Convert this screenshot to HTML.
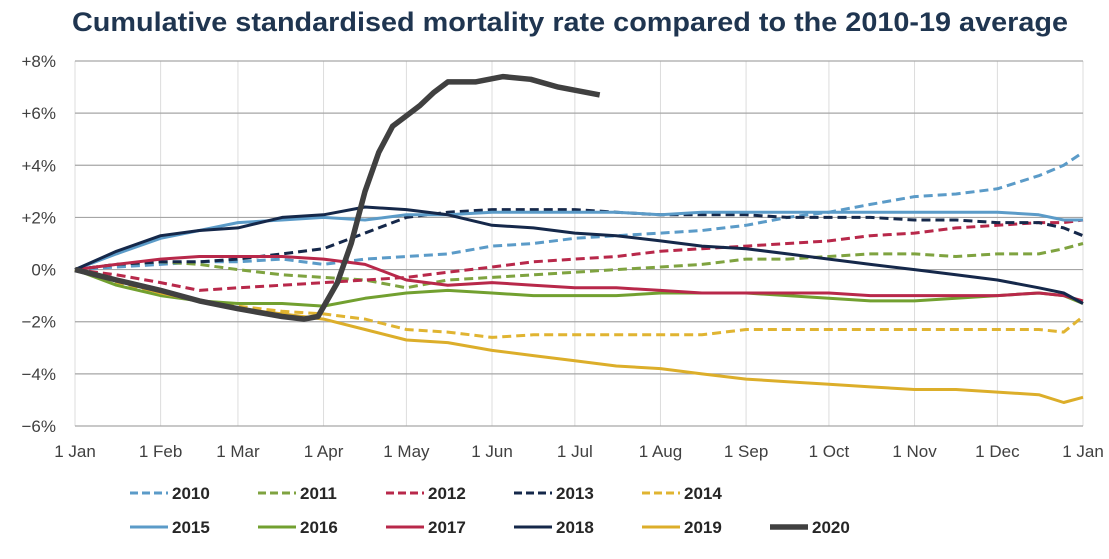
<!DOCTYPE html>
<html><head><meta charset="utf-8"><style>
body{margin:0;background:#fff;font-family:"Liberation Sans",sans-serif}
svg text{font-family:"Liberation Sans",sans-serif}
</style></head><body>
<svg id="c" width="1109" height="554" xmlns="http://www.w3.org/2000/svg">
<text x="72" y="31" font-size="27" font-weight="bold" fill="#1f3550" textLength="996" lengthAdjust="spacingAndGlyphs">Cumulative standardised mortality rate compared to the 2010-19 average</text>
<g id="grid"></g><g id="axes"></g><g id="series"></g><g id="legend"></g>
</svg>
<script>
const days=[0,15,31,45,59,75,90,105,120,135,151,166,181,196,212,227,243,258,273,288,304,319,334,349,358,365];
const yTicks=[8,6,4,2,0,-2,-4,-6];
const monthDays=[0,31,59,90,120,151,181,212,243,273,304,334,365];
const monthLabels=["1 Jan","1 Feb","1 Mar","1 Apr","1 May","1 Jun","1 Jul","1 Aug","1 Sep","1 Oct","1 Nov","1 Dec","1 Jan"];
const s2010=[0,0.1,0.2,0.3,0.3,0.4,0.2,0.4,0.5,0.6,0.9,1.0,1.2,1.3,1.4,1.5,1.7,2.0,2.2,2.5,2.8,2.9,3.1,3.6,4.0,4.5];
const s2011=[0,0.2,0.3,0.2,0.0,-0.2,-0.3,-0.4,-0.7,-0.4,-0.3,-0.2,-0.1,0.0,0.1,0.2,0.4,0.4,0.5,0.6,0.6,0.5,0.6,0.6,0.8,1.0];
const s2012=[0,-0.2,-0.5,-0.8,-0.7,-0.6,-0.5,-0.4,-0.3,-0.1,0.1,0.3,0.4,0.5,0.7,0.8,0.9,1.0,1.1,1.3,1.4,1.6,1.7,1.8,1.8,1.9];
const s2013=[0,0.2,0.3,0.3,0.4,0.6,0.8,1.4,2.0,2.2,2.3,2.3,2.3,2.2,2.1,2.1,2.1,2.0,2.0,2.0,1.9,1.9,1.8,1.8,1.6,1.3];
const s2014=[0,-0.5,-0.9,-1.2,-1.4,-1.6,-1.7,-1.9,-2.3,-2.4,-2.6,-2.5,-2.5,-2.5,-2.5,-2.5,-2.3,-2.3,-2.3,-2.3,-2.3,-2.3,-2.3,-2.3,-2.4,-1.8];
const s2015=[0,0.6,1.2,1.5,1.8,1.9,2.0,1.9,2.1,2.1,2.2,2.2,2.2,2.2,2.1,2.2,2.2,2.2,2.2,2.2,2.2,2.2,2.2,2.1,1.9,1.9];
const s2016=[0,-0.6,-1.0,-1.2,-1.3,-1.3,-1.4,-1.1,-0.9,-0.8,-0.9,-1.0,-1.0,-1.0,-0.9,-0.9,-0.9,-1.0,-1.1,-1.2,-1.2,-1.1,-1.0,-0.9,-1.0,-1.3];
const s2017=[0,0.2,0.4,0.5,0.5,0.5,0.4,0.2,-0.4,-0.6,-0.5,-0.6,-0.7,-0.7,-0.8,-0.9,-0.9,-0.9,-0.9,-1.0,-1.0,-1.0,-1.0,-0.9,-1.0,-1.2];
const s2018=[0,0.7,1.3,1.5,1.6,2.0,2.1,2.4,2.3,2.1,1.7,1.6,1.4,1.3,1.1,0.9,0.8,0.6,0.4,0.2,0.0,-0.2,-0.4,-0.7,-0.9,-1.3];
const s2019=[0,-0.4,-0.9,-1.2,-1.5,-1.7,-1.9,-2.3,-2.7,-2.8,-3.1,-3.3,-3.5,-3.7,-3.8,-4.0,-4.2,-4.3,-4.4,-4.5,-4.6,-4.6,-4.7,-4.8,-5.1,-4.9];
const days2020=[0,15,31,45,59,75,83,88,95,100,105,110,115,120,125,130,135,145,155,165,175,190];
const s2020=[0,-0.4,-0.8,-1.2,-1.5,-1.8,-1.9,-1.8,-0.5,1.0,3.0,4.5,5.5,5.9,6.3,6.8,7.2,7.2,7.4,7.3,7.0,6.7];

const NS="http://www.w3.org/2000/svg";
const X0=75,X1=1083,Y0=61,Y1=426;
const xs=d=>X0+(X1-X0)*d/365;
const ys=v=>Y0+(8-v)*(Y1-Y0)/14;
function mk(t,a,p){const e=document.createElementNS(NS,t);for(const k in a)e.setAttribute(k,a[k]);p.appendChild(e);return e;}
const grid=document.getElementById('grid'),axes=document.getElementById('axes'),ser=document.getElementById('series'),leg=document.getElementById('legend');
monthDays.forEach((d,i)=>{
  const l=mk('line',{x1:xs(d),x2:xs(d),y1:Y0,y2:Y1,stroke:'#dcdcdc','stroke-width':1},grid);
  
  
  const t=mk('text',{x:xs(d),y:457,'text-anchor':'middle','font-size':17,fill:'#404040'},axes);
  t.textContent=monthLabels[i];
  
  
});
yTicks.forEach(v=>{
  const l=mk('line',{x1:X0,x2:X1,y1:ys(v),y2:ys(v),stroke:'#a6a6a6','stroke-width':1.2},grid);
  
  
  const t=mk('text',{x:56,y:ys(v)+6,'text-anchor':'end','font-size':17,fill:'#404040'},axes);
  t.textContent=(v>0?'+':v<0?'\u2212':'')+Math.abs(v)+'%';
  
  
});
const series=[
 ['2010',s2010,'#5b9bc8',true,3],['2011',s2011,'#7fa340',true,3],['2012',s2012,'#b8284a',true,3],['2013',s2013,'#15284a',true,3],['2014',s2014,'#e0b431',true,3],
 ['2015',s2015,'#5b9bc8',false,3],['2016',s2016,'#72a030',false,3],['2017',s2017,'#b8284a',false,3],['2018',s2018,'#15284a',false,3],['2019',s2019,'#dcae2a',false,3],
 ['2020',s2020,'#404040',false,5.5]];
series.forEach((s,i)=>{
  const dd=s[0]==='2020'?days2020:days;
  const pts=s[1].map((v,j)=>xs(dd[j]).toFixed(1)+','+ys(v).toFixed(1)).join(' ');
  const p=mk('polyline',{points:pts,fill:'none',stroke:s[2],'stroke-width':s[4],'stroke-linejoin':'round','stroke-dasharray':s[3]?'9 5':'none'},ser);
  
  
  const row=i<5?0:1,col=i<5?i:i-5;
  const lx=130+col*128,ly=row?527:493;
  const g=mk('g',{},leg);
  
  
  mk('line',{x1:lx,x2:lx+38,y1:ly,y2:ly,stroke:s[2],'stroke-width':s[4],'stroke-dasharray':s[3]?'8 4':'none'},g);
  const t=mk('text',{x:lx+42,y:ly+6,'font-size':17,'font-weight':'bold',fill:'#262626'},g);
  t.textContent=s[0];
});
</script>
</body></html>
